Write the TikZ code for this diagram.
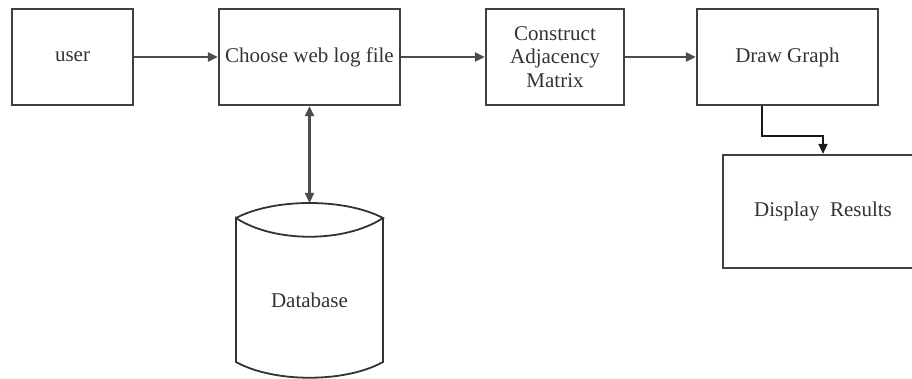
\documentclass[tikz,border=0pt]{standalone}
\usepackage{fontspec}
\setmainfont{Liberation Serif}
\usetikzlibrary{arrows.meta}
\begin{document}
\begin{tikzpicture}[x=1pt,y=-1pt,
  every node/.style={font=\fontsize{21}{23.5}\selectfont, text=black!80},
  blk/.style={draw=black!75, line width=2.2pt, inner sep=0pt, align=center, minimum height=96pt},
  conn/.style={draw=black!70, line width=2.2pt},
  arr/.style={conn, -{Triangle[length=10pt,width=9pt]}},
  thinarr/.style={draw=black!90, line width=1.5pt, -{Triangle[length=10pt,width=9pt]}},
  darr/.style={conn, {Triangle[length=10pt,width=9pt]}-{Triangle[length=10pt,width=9pt]}}]
\clip (0,0) rectangle (912,379);
\node[blk, minimum width=121pt] (user) at (72.5,57) {user};
\node[blk, minimum width=181pt] (choose) at (309.5,57) {Choose web log file};
\node[blk, minimum width=138pt] (cons) at (555,57) {Construct\\Adjacency\\Matrix};
\node[blk, minimum width=181pt] (dg) at (787.5,57) {Draw Graph};
\node[blk, minimum width=200pt, minimum height=113pt] (disp) at (823,211.5) {Display\ \ Results};
% database cylinder
\coordinate (dbtop) at (309.5,203);
\draw[draw=black!80, line width=1.8pt] (236,218) .. controls (274,198) and (345,198) .. (383,218)
  .. controls (345,243) and (274,243) .. (236,218) -- (236,362)
  .. controls (274,383) and (345,383) .. (383,362) -- (383,218);
\node (db) at (309.5,300) {Database};
\draw[arr] (user) -- (choose);
\draw[arr] (choose) -- (cons);
\draw[arr] (cons) -- (dg);
\draw[thinarr] ([xshift=-25.5pt]dg.south) |- ([yshift=18pt]disp.north) -- (disp.north);
\draw[darr] (choose.south) -- (dbtop);
\end{tikzpicture}
\end{document}
